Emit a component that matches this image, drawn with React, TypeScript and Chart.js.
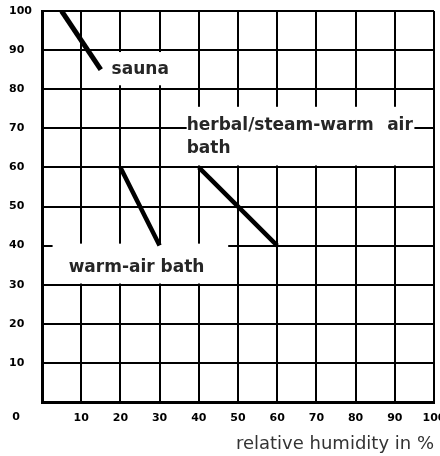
import React, { useEffect, useRef } from 'react';
import { Chart, registerables } from 'chart.js';

Chart.register(...registerables);

// ---- data ----
const saunaX = [5, 15];
const saunaY = [100, 85];
const warmAirX = [20, 30];
const warmAirY = [60, 40];
const herbalX = [40, 60];
const herbalY = [60, 40];

const axisMin = 0;
const axisMax = 100;
const axisStep = 10;
const xAxisTitle = 'relative humidity in %';
const originLabel = '0';

// annotation labels (data coordinates)
const labelTexts = ['sauna', 'herbal/steam-warm', 'air', 'bath', 'warm-air bath'];
const labelX = [17.75, 36.9, 94.6, 36.9, 6.8];
const labelY = [84.9, 70.8, 70.8, 64.7, 34.5];
const labelAlign = ['left', 'left', 'right', 'left', 'left'];

// white boxes behind labels (data coordinates)
const boxX0 = [16, 36.9, 2.7];
const boxX1 = [34, 95, 47.5];
const boxY0 = [81, 60.5, 30.3];
const boxY1 = [89.5, 75.5, 40.5];

const FONT = '"DejaVu Sans", sans-serif';

const toPoints = (xs: number[], ys: number[]) => xs.map((x, i) => ({ x, y: ys[i] }));

const annotationPlugin = {
  id: 'annotations',
  beforeDatasetsDraw(chart: any) {
    const { ctx, scales } = chart;
    const x = scales.x;
    const y = scales.y;
    ctx.save();
    ctx.fillStyle = '#ffffff';
    for (let i = 0; i < boxX0.length; i++) {
      const l = x.getPixelForValue(boxX0[i]);
      const r = x.getPixelForValue(boxX1[i]);
      const t = y.getPixelForValue(boxY1[i]);
      const b = y.getPixelForValue(boxY0[i]);
      ctx.fillRect(l, t, r - l, b - t);
    }
    ctx.restore();
  },
  afterDatasetsDraw(chart: any) {
    const { ctx, scales } = chart;
    const x = scales.x;
    const y = scales.y;
    ctx.save();
    ctx.fillStyle = '#262626';
    ctx.font = `bold 17px ${FONT}`;
    ctx.textBaseline = 'middle';
    for (let i = 0; i < labelTexts.length; i++) {
      ctx.textAlign = labelAlign[i] as CanvasTextAlign;
      ctx.fillText(labelTexts[i], x.getPixelForValue(labelX[i]), y.getPixelForValue(labelY[i]));
    }
    // origin label shared by both axes
    ctx.fillStyle = '#000';
    ctx.font = `bold 11px ${FONT}`;
    ctx.textAlign = 'center';
    ctx.textBaseline = 'top';
    ctx.fillText(originLabel, y.left + 7, x.top + 10);
    ctx.restore();
  },
};

export default function App() {
  const ref = useRef<HTMLCanvasElement | null>(null);

  useEffect(() => {
    if (!ref.current) return;
    const lineStyle = {
      showLine: true,
      borderColor: '#000',
      backgroundColor: '#000',
      borderWidth: 5,
      pointRadius: 0,
      borderCapStyle: 'butt' as const,
    };
    const chart = new Chart(ref.current, {
      type: 'scatter',
      data: {
        datasets: [
          { ...lineStyle, data: toPoints(saunaX, saunaY) },
          { ...lineStyle, borderWidth: 4.5, data: toPoints(warmAirX, warmAirY) },
          { ...lineStyle, borderWidth: 4.5, data: toPoints(herbalX, herbalY) },
        ],
      },
      options: {
        responsive: false,
        animation: false,
        layout: { padding: { left: 9, right: 6, top: 11, bottom: 0 } },
        plugins: { legend: { display: false }, tooltip: { enabled: false } },
        scales: {
          x: {
            type: 'linear',
            min: axisMin,
            max: axisMax,
            ticks: {
              stepSize: axisStep,
              padding: 10,
              color: '#000',
              maxRotation: 0,
              autoSkip: false,
              font: { family: FONT, size: 11, weight: 'bold' },
              callback: (v: any) => (v === 0 ? '' : String(v)),
            },
            grid: { color: '#000', lineWidth: 2, drawTicks: false },
            border: { color: '#000', width: 3 },
            title: {
              display: true,
              text: xAxisTitle,
              align: 'end',
              color: '#333',
              font: { family: FONT, size: 18 },
              padding: { top: 0, bottom: 1 },
            },
            afterFit: (s: any) => {
              s.height = 54;
              s.paddingLeft = 0;
              s.paddingRight = 0;
            },
          },
          y: {
            type: 'linear',
            min: axisMin,
            max: axisMax,
            ticks: {
              stepSize: axisStep,
              crossAlign: 'far',
              color: '#000',
              font: { family: FONT, size: 11, weight: 'bold' },
              callback: (v: any) => (v === 0 ? '' : String(v)),
            },
            grid: { color: '#000', lineWidth: 2, drawTicks: false },
            border: { color: '#000', width: 3 },
            afterFit: (s: any) => {
              s.width = 33;
              s.paddingTop = 0;
              s.paddingBottom = 0;
            },
          },
        },
      },
      plugins: [annotationPlugin],
    } as any);
    return () => chart.destroy();
  }, []);

  return (
    <div style={{ position: 'absolute', left: 0, top: 0, width: 440, height: 456, background: '#fff' }}>
      <canvas ref={ref} width={440} height={456} style={{ display: 'block' }} />
    </div>
  );
}
